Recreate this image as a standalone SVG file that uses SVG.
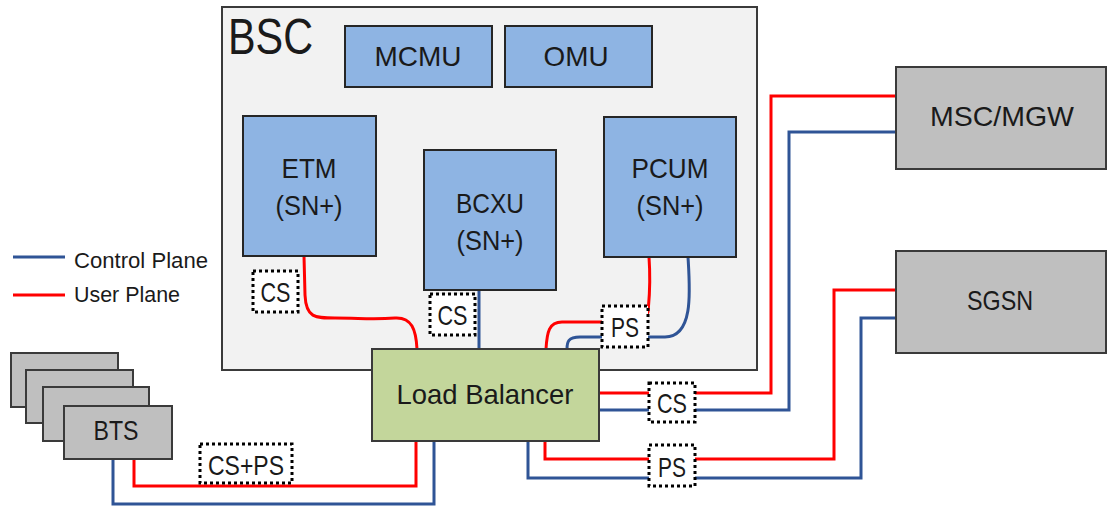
<svg xmlns="http://www.w3.org/2000/svg" width="1107" height="506" viewBox="0 0 1107 506">
<style>
text{font-family:"Liberation Sans",Arial,sans-serif;fill:#1a1a1a;}
.lbl{font-size:28px;text-anchor:middle;}
.leg{font-size:22px;}
.blue{fill:#8eb4e3;stroke:#262626;stroke-width:2;}
.gray{fill:#bfbfbf;stroke:#3a3a3a;stroke-width:2;}
.bsc{fill:#f2f2f2;stroke:#3a3a3a;stroke-width:2;}
.lb{fill:#c3d69b;stroke:#3a3a3a;stroke-width:2;}
.tag{fill:#ffffff;stroke:#000;stroke-width:3;stroke-dasharray:3 3;}
.up{fill:none;stroke:#ff0000;stroke-width:3;}
.cp{fill:none;stroke:#2f5496;stroke-width:3;}
</style>
<g id="bsc">
<rect class="bsc" x="222" y="7" width="535" height="363"/>
<text x="228" y="54" style="font-size:50px" textLength="85" lengthAdjust="spacingAndGlyphs">BSC</text>
</g>
<g id="legend">
<line class="cp" x1="13" y1="257" x2="65" y2="257"/>
<line class="up" x1="13" y1="295" x2="65" y2="295"/>
<text class="leg" x="74" y="268" textLength="134" lengthAdjust="spacingAndGlyphs">Control Plane</text>
<text class="leg" x="74" y="302" textLength="106" lengthAdjust="spacingAndGlyphs">User Plane</text>
</g>
<g id="connectors">
<path class="up" d="M134,459 V486 H416 V441"/>
<path class="cp" d="M113,459 V504 H434 V441"/>
<path class="up" d="M304,256 L305,295 C306,318 315,318 335,318 C360,318 372,320 395,318 C412,317 416,330 417,349"/>
<path class="cp" d="M479,290 V349"/>
<path class="up" d="M649,257 C651,285 649,300 648,312 C646,322 630,322 620,322 H562 C549,322 547,332 546,349"/>
<path class="cp" d="M688,257 C690,290 694,337 665,337 H580 C568,337 567,342 567,349"/>
<path class="up" d="M599,393 H771 V96 H896"/>
<path class="cp" d="M599,410 H789 V132 H896"/>
<path class="up" d="M545,441 V459 H834 V290 H896"/>
<path class="cp" d="M528,441 V478 H861 V318 H896"/>
</g>
<g id="mcmu">
<rect class="blue" x="345" y="26" width="147" height="61"/>
<text class="lbl" x="418" y="66" textLength="87" lengthAdjust="spacingAndGlyphs">MCMU</text>
</g>
<g id="omu">
<rect class="blue" x="505" y="26" width="147" height="61"/>
<text class="lbl" x="576" y="66" textLength="65" lengthAdjust="spacingAndGlyphs">OMU</text>
</g>
<g id="etm">
<rect class="blue" x="243" y="116" width="133" height="140"/>
<text class="lbl" x="309" y="178" textLength="55" lengthAdjust="spacingAndGlyphs">ETM</text>
<text class="lbl" x="309" y="215" textLength="67" lengthAdjust="spacingAndGlyphs">(SN+)</text>
</g>
<g id="bcxu">
<rect class="blue" x="424" y="150" width="132" height="140"/>
<text class="lbl" x="490" y="213" textLength="68" lengthAdjust="spacingAndGlyphs">BCXU</text>
<text class="lbl" x="490" y="250" textLength="67" lengthAdjust="spacingAndGlyphs">(SN+)</text>
</g>
<g id="pcum">
<rect class="blue" x="604" y="117" width="132" height="140"/>
<text class="lbl" x="670" y="178" textLength="77" lengthAdjust="spacingAndGlyphs">PCUM</text>
<text class="lbl" x="670" y="215" textLength="67" lengthAdjust="spacingAndGlyphs">(SN+)</text>
</g>
<g id="load-balancer">
<rect class="lb" x="372" y="349" width="227" height="92"/>
<text class="lbl" x="485" y="404" textLength="177" lengthAdjust="spacingAndGlyphs">Load Balancer</text>
</g>
<g id="msc-mgw">
<rect class="gray" x="896" y="67" width="210" height="102"/>
<text class="lbl" x="1002" y="126" textLength="144" lengthAdjust="spacingAndGlyphs">MSC/MGW</text>
</g>
<g id="sgsn">
<rect class="gray" x="896" y="251" width="210" height="102"/>
<text class="lbl" x="1000" y="310" textLength="66" lengthAdjust="spacingAndGlyphs">SGSN</text>
</g>
<g id="bts">
<rect class="gray" x="11" y="353" width="107" height="54"/>
<rect class="gray" x="26" y="370" width="107" height="53"/>
<rect class="gray" x="43" y="387" width="106" height="54"/>
<rect class="gray" x="64" y="406" width="108" height="53"/>
<text class="lbl" x="116" y="440" textLength="45" lengthAdjust="spacingAndGlyphs">BTS</text>
</g>
<g id="tag-cs-etm">
<rect class="tag" x="253" y="271" width="45" height="41"/>
<text class="lbl" x="275.5" y="302" textLength="30" lengthAdjust="spacingAndGlyphs">CS</text>
</g>
<g id="tag-cs-bcxu">
<rect class="tag" x="430" y="294" width="45" height="41"/>
<text class="lbl" x="452.5" y="325" textLength="30" lengthAdjust="spacingAndGlyphs">CS</text>
</g>
<g id="tag-ps-pcum">
<rect class="tag" x="602" y="306" width="46" height="41"/>
<text class="lbl" x="625" y="337" textLength="28" lengthAdjust="spacingAndGlyphs">PS</text>
</g>
<g id="tag-cs-core">
<rect class="tag" x="649" y="383" width="46" height="39"/>
<text class="lbl" x="672" y="413" textLength="30" lengthAdjust="spacingAndGlyphs">CS</text>
</g>
<g id="tag-ps-core">
<rect class="tag" x="649" y="445" width="46" height="41"/>
<text class="lbl" x="672" y="477" textLength="28" lengthAdjust="spacingAndGlyphs">PS</text>
</g>
<g id="tag-csps">
<rect class="tag" x="200" y="444" width="92" height="39"/>
<text class="lbl" x="246" y="475" textLength="76" lengthAdjust="spacingAndGlyphs">CS+PS</text>
</g>
</svg>
